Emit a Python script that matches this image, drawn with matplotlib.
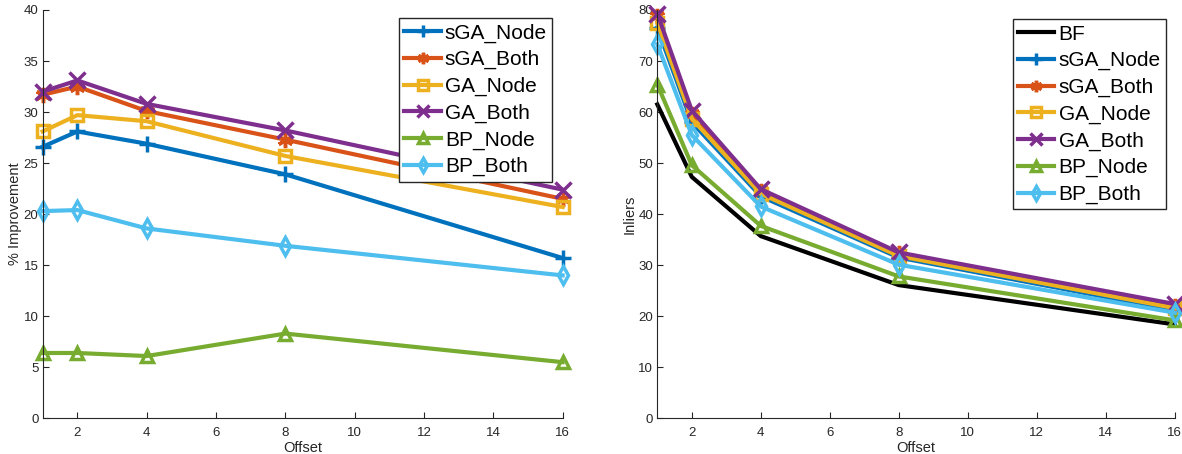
import matplotlib
matplotlib.use("Agg")
import matplotlib.pyplot as plt

plt.rcParams['font.family'] = ['Liberation Sans', 'DejaVu Sans']

offsets = [1, 2, 4, 8, 16]

# Left: % Improvement
imp_sGA_Node = [26.6, 28.1, 26.9, 23.9, 15.7]
imp_sGA_Both = [31.7, 32.5, 30.1, 27.3, 21.5]
imp_GA_Node = [28.1, 29.7, 29.1, 25.7, 20.7]
imp_GA_Both = [32.0, 33.1, 30.8, 28.2, 22.4]
imp_BP_Node = [6.4, 6.4, 6.1, 8.3, 5.5]
imp_BP_Both = [20.3, 20.4, 18.6, 16.9, 14.0]

# Right: Inliers
inl_BF = [61.5, 47.3, 35.7, 26.1, 18.4]
inl_sGA_Node = [76.5, 58.0, 43.5, 31.5, 21.2]
inl_sGA_Both = [78.8, 59.6, 44.6, 32.3, 22.0]
inl_GA_Node = [77.5, 58.7, 44.0, 31.8, 21.6]
inl_GA_Both = [79.3, 60.3, 44.9, 32.5, 22.4]
inl_BP_Node = [65.4, 49.6, 37.7, 27.8, 19.2]
inl_BP_Both = [73.3, 55.5, 41.5, 30.1, 20.7]

labels = ['sGA_Node', 'sGA_Both', 'GA_Node', 'GA_Both', 'BP_Node', 'BP_Both']
colors = ['#0072BD', '#D95319', '#EDB120', '#7E2F8E', '#77AC30', '#4DBEEE']
markers = ['+', (6, 2, 0), 's', 'x', '^', 'd']

fig = plt.figure(figsize=(11.82, 4.54), dpi=100)
ax1 = fig.add_axes([0.0361, 0.0786, 0.4399, 0.8994])
ax2 = fig.add_axes([0.5561, 0.0786, 0.4377, 0.8994])

def style(ax, ylim, yticks, ylabel):
    ax.set_xlim(1, 16)
    ax.set_ylim(*ylim)
    ax.set_xticks([2, 4, 6, 8, 10, 12, 14, 16])
    ax.set_yticks(yticks)
    for s in ['top', 'right']:
        ax.spines[s].set_visible(False)
    for s in ['left', 'bottom']:
        ax.spines[s].set_color('#262626')
        ax.spines[s].set_linewidth(0.8)
    ax.tick_params(direction='in', length=4, width=0.8, colors='#262626', labelsize=9.5)
    ax.tick_params(axis='x', pad=6)
    ax.tick_params(axis='y', pad=3)
    ax.set_xlabel('Offset', fontsize=10.5, color='#262626', labelpad=2)
    ax.set_ylabel(ylabel, fontsize=10.5, color='#262626', labelpad=1)

def msize(m):
    return 11 if m in ('+', 'x') or isinstance(m, tuple) else 9

leg_kw = dict(fontsize=15, frameon=True, fancybox=False, edgecolor='#262626',
              framealpha=1, borderpad=0.25, labelspacing=0.36, handlelength=1.75,
              handletextpad=0.2, borderaxespad=0, markerscale=0.75)

left_series = [imp_sGA_Node, imp_sGA_Both, imp_GA_Node, imp_GA_Both, imp_BP_Node, imp_BP_Both]
for vals, lab, c, m in zip(left_series, labels, colors, markers):
    ax1.plot(offsets, vals, color=c, lw=3, marker=m, ms=msize(m), mew=2.5,
             mfc='none', mec=c, label=lab, clip_on=False)
style(ax1, (0, 40), range(0, 41, 5), '% Improvement')
ax1.legend(loc='upper right', bbox_to_anchor=(0.980, 0.980), **leg_kw)

ax2.plot(offsets, inl_BF, color='black', lw=3, label='BF', clip_on=False)
right_series = [inl_sGA_Node, inl_sGA_Both, inl_GA_Node, inl_GA_Both, inl_BP_Node, inl_BP_Both]
for vals, lab, c, m in zip(right_series, labels, colors, markers):
    ax2.plot(offsets, vals, color=c, lw=3, marker=m, ms=msize(m), mew=2.5,
             mfc='none', mec=c, label=lab, clip_on=False)
style(ax2, (0, 80), range(0, 81, 10), 'Inliers')
ax2.legend(loc='upper right', bbox_to_anchor=(0.983, 0.977), **leg_kw)

fig.savefig('out.png', dpi=100)
